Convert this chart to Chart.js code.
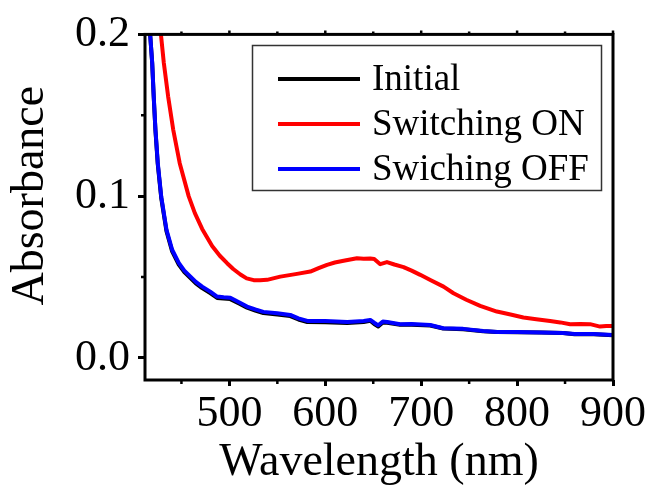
<!DOCTYPE html>
<html>
<head>
<meta charset="utf-8">
<script src="https://cdn.jsdelivr.net/npm/chart.js@4/dist/chart.umd.min.js"></script>
<style>
  html, body { margin: 0; padding: 0; background: #fff; }
  canvas { display: block; }
</style>
</head>
<body>
<canvas id="c" width="653" height="486"></canvas>
<script>
// ---- Data ----
const seriesLabels = ["Initial", "Switching ON", "Swiching OFF"];
const seriesColors = ["#000000", "#ff0000", "#0000ff"];

const offWavelength = [413, 417, 419.5, 421.1, 422.9, 425.3, 428.9, 434.4, 440.3, 447.2, 453, 459.4, 465, 471.6, 480, 487.2, 494, 501, 510, 518.4, 527, 535.4, 550, 563.5, 572, 581.3, 600, 622.9, 640, 646.9, 651, 655.2, 660, 664.6, 678, 690, 709.4, 723, 743.8, 764.6, 779.2, 800, 825, 847.9, 860, 880, 900];
const offAbsorbance = [0.240, 0.203, 0.1825, 0.1617, 0.1412, 0.1207, 0.0999, 0.0793, 0.0669, 0.0588, 0.0540, 0.0503, 0.0470, 0.0441, 0.0410, 0.0380, 0.0375, 0.0372, 0.0345, 0.0318, 0.0300, 0.0285, 0.0276, 0.0266, 0.0245, 0.0229, 0.0228, 0.0223, 0.0229, 0.0235, 0.0218, 0.0202, 0.0225, 0.0223, 0.0209, 0.0210, 0.0204, 0.0184, 0.0180, 0.0167, 0.0161, 0.0160, 0.0158, 0.0155, 0.0148, 0.0148, 0.0142];

const initialWavelength = [413, 417, 419.5, 421.1, 422.9, 425.3, 428.9, 434.4, 440.3, 447.2, 453, 459.4, 465, 471.6, 480, 487.2, 494, 501, 510, 518.4, 527, 535.4, 550, 563.5, 572, 581.3, 600, 622.9, 640, 646.9, 651, 655.2, 660, 664.6, 678, 690, 709.4, 723, 743.8, 764.6, 779.2, 800, 825, 847.9, 860, 880, 900];
const initialAbsorbance = [0.240, 0.203, 0.1822, 0.1612, 0.1405, 0.1198, 0.0990, 0.0783, 0.0659, 0.0578, 0.0531, 0.0494, 0.0461, 0.0432, 0.0401, 0.0371, 0.0367, 0.0364, 0.0337, 0.0311, 0.0293, 0.0278, 0.0269, 0.0259, 0.0238, 0.0222, 0.0221, 0.0217, 0.0223, 0.0230, 0.0210, 0.0195, 0.0219, 0.0218, 0.0205, 0.0206, 0.0201, 0.0182, 0.0178, 0.0166, 0.0160, 0.0159, 0.0157, 0.0154, 0.0147, 0.0147, 0.0141];

const onWavelength = [426, 428.1, 431.6, 436.1, 441.4, 448.2, 457.6, 464, 471.6, 482, 490, 497.6, 504, 511.5, 518, 525.3, 532, 539.3, 553.1, 570.5, 584.4, 593, 601.8, 610, 619.1, 633, 640, 646.9, 651, 657.3, 664.3, 672, 681.6, 690, 699, 710, 723.3, 733.7, 747, 761.5, 778.9, 792, 806.6, 820, 834.4, 845, 855.3, 866, 876.1, 886.5, 893, 900];
const onAbsorbance = [0.215, 0.203, 0.1825, 0.1617, 0.1412, 0.1204, 0.0999, 0.0895, 0.0798, 0.0692, 0.0632, 0.0586, 0.0550, 0.0516, 0.0492, 0.0481, 0.0480, 0.0483, 0.0503, 0.0520, 0.0534, 0.0555, 0.0576, 0.0590, 0.0601, 0.0617, 0.0614, 0.0615, 0.0612, 0.0580, 0.0593, 0.0578, 0.0562, 0.0540, 0.0514, 0.0480, 0.0441, 0.0400, 0.0360, 0.0322, 0.0287, 0.0270, 0.0250, 0.0240, 0.0229, 0.0220, 0.0209, 0.0210, 0.0209, 0.0194, 0.0198, 0.0198];

const xMajorTicks = [500, 600, 700, 800, 900];
const xMinorTicks = [450, 550, 650, 750, 850];
const yMajorTicks = [0.0, 0.1, 0.2];
const yMinorTicks = [0.05, 0.15];
const xTitle = "Wavelength (nm)";
const yTitle = "Absorbance";

// ---- Build datasets ----
function pts(xs, ys) { return xs.map((x, i) => ({ x: x, y: ys[i] })); }

const SERIF = "'Liberation Serif', 'Times New Roman', serif";

const datasets = [
  { label: seriesLabels[0], data: pts(initialWavelength, initialAbsorbance), borderColor: seriesColors[0], order: 3 },
  { label: seriesLabels[1], data: pts(onWavelength, onAbsorbance), borderColor: seriesColors[1], order: 2 },
  { label: seriesLabels[2], data: pts(offWavelength, offAbsorbance), borderColor: seriesColors[2], order: 1 }
].map(d => Object.assign(d, { borderWidth: 4, pointRadius: 0, tension: 0, fill: false, borderJoinStyle: 'round', borderCapStyle: 'round' }));

// ---- Plugins: frame, minor ticks, legend ----
const framePlugin = {
  id: 'frame',
  afterDraw(chart) {
    const ctx = chart.ctx;
    const a = chart.chartArea;
    const xs = chart.scales.x, ys = chart.scales.y;
    ctx.save();
    ctx.strokeStyle = '#000';
    ctx.lineWidth = 3;
    ctx.strokeRect(a.left, a.top, a.right - a.left, a.bottom - a.top);
    ctx.lineWidth = 2.5;
    ctx.beginPath();
    xMinorTicks.forEach(v => {
      const px = xs.getPixelForValue(v);
      ctx.moveTo(px, a.bottom); ctx.lineTo(px, a.bottom + 4);
      ctx.moveTo(px, a.top); ctx.lineTo(px, a.top - 3);
    });
    xMajorTicks.forEach(v => {
      const px = xs.getPixelForValue(v);
      ctx.moveTo(px, a.top); ctx.lineTo(px, a.top - 4);
    });
    yMinorTicks.forEach(v => {
      const py = ys.getPixelForValue(v);
      ctx.moveTo(a.left, py); ctx.lineTo(a.left - 4, py);
    });
    ctx.stroke();

    // legend
    const bx = 252.5, by = 45.5, bw = 349, bh = 145;
    ctx.fillStyle = '#fff';
    ctx.fillRect(bx, by, bw, bh);
    ctx.strokeStyle = '#333';
    ctx.lineWidth = 1.5;
    ctx.strokeRect(bx, by, bw, bh);
    const rows = [79, 124, 169];
    ctx.font = "37px " + SERIF;
    ctx.textBaseline = 'middle';
    ctx.textAlign = 'left';
    chart.data.datasets.forEach((d, i) => {
      ctx.strokeStyle = d.borderColor;
      ctx.lineWidth = 4;
      ctx.beginPath();
      ctx.moveTo(278, rows[i]); ctx.lineTo(360, rows[i]);
      ctx.stroke();
      ctx.fillStyle = '#000';
      ctx.fillText(d.label, 372, rows[i] + 1);
    });
    ctx.restore();
  }
};

new Chart(document.getElementById('c'), {
  type: 'line',
  data: { datasets: datasets },
  options: {
    responsive: false,
    devicePixelRatio: 1,
    animation: false,
    layout: { padding: { left: 0, right: 40, top: 34, bottom: 0 } },
    plugins: { legend: { display: false }, tooltip: { enabled: false } },
    scales: {
      x: {
        type: 'linear',
        min: 412, max: 900,
        afterBuildTicks: s => { s.ticks = xMajorTicks.map(v => ({ value: v })); },
        afterFit: s => { s.height = 106; },
        border: { display: false },
        grid: { drawOnChartArea: false, drawTicks: true, tickLength: 6, tickWidth: 3, tickColor: '#000' },
        ticks: { font: { family: SERIF, size: 44 }, color: '#000', padding: 2, maxRotation: 0, autoSkip: false,
                 callback: v => String(v) },
        title: { display: true, text: xTitle, color: '#000', font: { family: SERIF, size: 46, lineHeight: 1 }, padding: { top: 0, bottom: 0 } }
      },
      y: {
        min: -0.0136, max: 0.2,
        afterBuildTicks: s => { s.ticks = yMajorTicks.map(v => ({ value: v })); },
        afterFit: s => { s.width = 145; },
        border: { display: false },
        grid: { drawOnChartArea: false, drawTicks: true, tickLength: 7, tickWidth: 3, tickColor: '#000' },
        ticks: { font: { family: SERIF, size: 44 }, color: '#000', padding: 8, callback: v => Number(v).toFixed(1) },
        title: { display: true, text: "  " + yTitle, color: '#000', font: { family: SERIF, size: 46, lineHeight: 1 }, padding: { top: 8, bottom: 0 } }
      }
    }
  },
  plugins: [framePlugin]
});
</script>
</body>
</html>
